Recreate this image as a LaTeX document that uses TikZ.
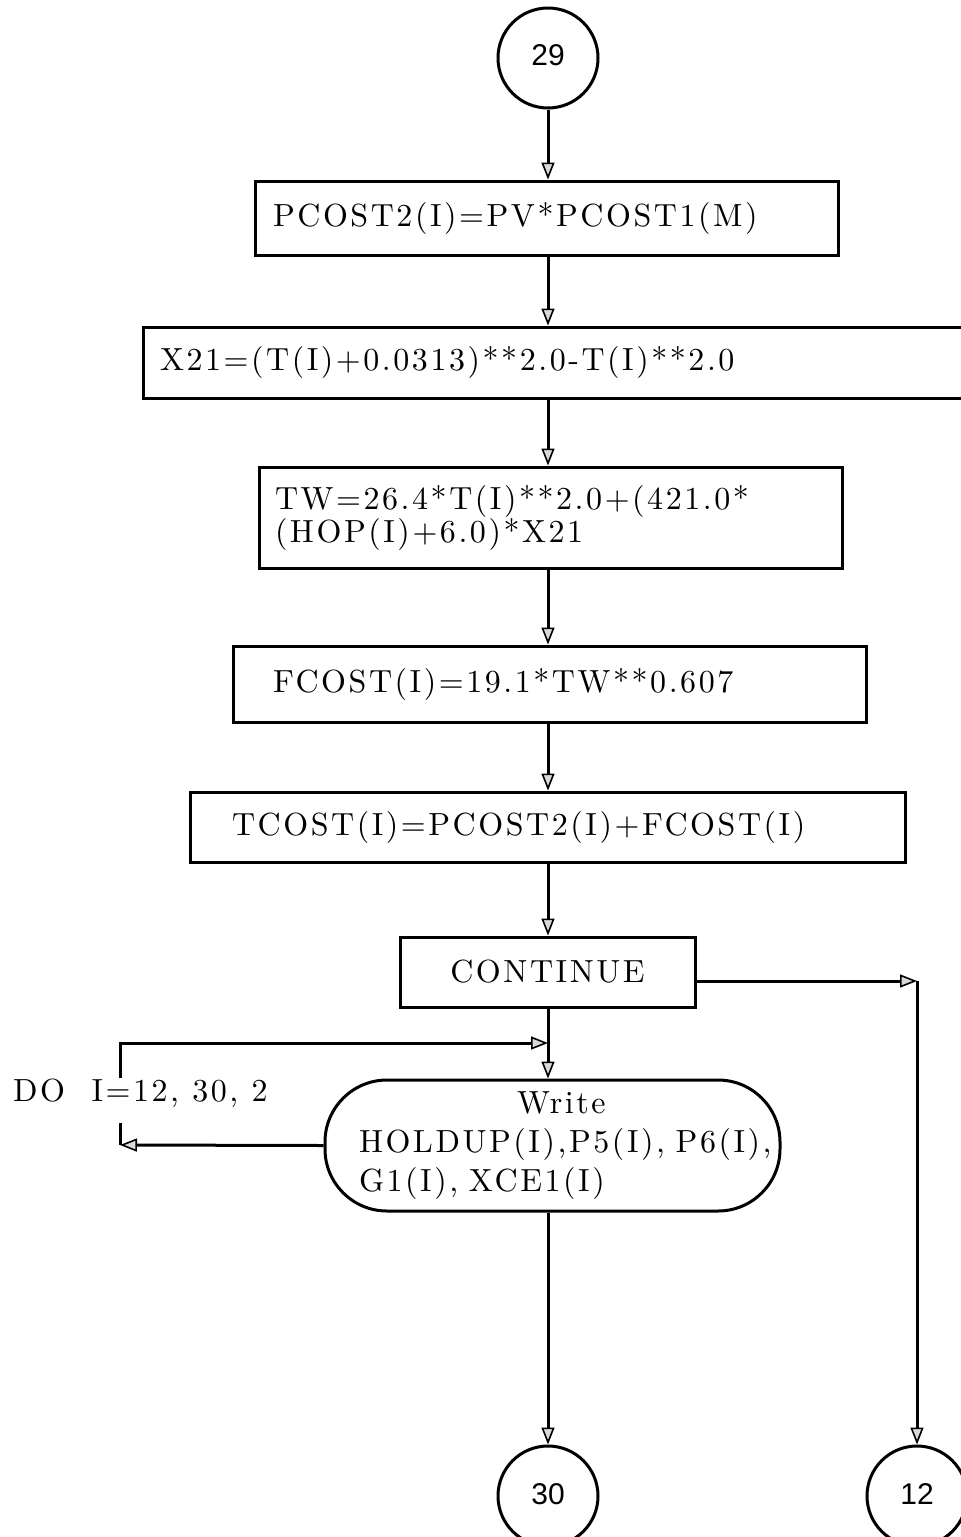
\documentclass[tikz,border=0pt]{standalone}
\usepackage{fontspec}
\newfontfamily\circfont{Liberation Sans}
\newfontfamily\typ{lmroman10-regular}[Extension=.otf,LetterSpace=8]
\usetikzlibrary{arrows.meta}
\newcommand\typfont{\typ\fontsize{32}{30}\selectfont}
\newcommand\wline[2]{\hspace*{#1}\makebox[0pt][l]{#2}}
\tikzset{
  ln/.style={line width=3pt},
  arr/.style={ln,-{Triangle[length=17pt,width=13pt,fill=gray!30,line width=1.6pt]}},
  box/.style={draw,ln,rectangle,inner ysep=0pt,font=\typfont,align=left},
  conn/.style={draw,ln,circle,minimum size=100pt,inner sep=0pt,font=\circfont\fontsize{30}{30}\selectfont},
}
\begin{document}
\begin{tikzpicture}[x=1pt,y=-1pt]
\useasboundingbox (0,0) rectangle (961,1537);
\node[conn] (n29) at (548,58) {\raisebox{6pt}{29}};
\node[box,minimum width=583pt,minimum height=74pt,inner xsep=18pt,text width=547pt] (b1) at (546.5,218) {PCOST2(I)=PV*PCOST1(M)};
\node[box,minimum width=832pt,minimum height=71pt,inner xsep=17pt,text width=798pt] (b2) at (559,362.5) {X21=(T(I)+0.0313)**2.0-T(I)**2.0};
\node[box,minimum width=583pt,minimum height=101pt,inner xsep=16pt,text width=551pt] (b3) at (550.5,517.5) {TW=26.4*T(I)**2.0+(421.0*\\(HOP(I)+6.0)*X21};
\node[box,minimum width=633pt,minimum height=76pt,inner xsep=40pt,text width=553pt] (b4) at (549.5,684) {FCOST(I)=19.1*TW**0.607};
\node[box,minimum width=715pt,minimum height=70pt,inner xsep=42pt,text width=631pt] (b5) at (547.5,827) {TCOST(I)=PCOST2(I)+FCOST(I)};
\node[box,minimum width=295pt,minimum height=70pt,inner xsep=10pt,text width=275pt,align=center] (b6) at (547.5,972) {CONTINUE};
\node[box,rounded corners=62pt,minimum width=455pt,minimum height=131pt,inner xsep=0pt,text width=455pt,font=\typfont\linespread{1.3}\selectfont] (w) at (552.5,1145.5) {\wline{192pt}{Write}\\\wline{34pt}{HOLDUP(I),P5(I), P6(I),}\\\wline{34pt}{G1(I), XCE1(I)}};
\node[anchor=west,inner sep=0pt,font=\typfont] (do) at (13,1093) {DO\ \ I=12, 30, 2};
\node[conn] (n30) at (548,1496) {\raisebox{4pt}{30}};
\node[conn] (n12) at (917,1496) {\raisebox{4pt}{12}};
\coordinate (lt) at (120,1043);
\coordinate (lb) at (120,1145);
\coordinate (rc) at (917,981);
\draw[arr] (n29.south) -- (n29.south |- b1.north);
\draw[arr] (n29.south |- b1.south) -- (n29.south |- b2.north);
\draw[arr] (n29.south |- b2.south) -- (n29.south |- b3.north);
\draw[arr] (n29.south |- b3.south) -- (n29.south |- b4.north);
\draw[arr] (n29.south |- b4.south) -- (n29.south |- b5.north);
\draw[arr] (n29.south |- b5.south) -- (n29.south |- b6.north);
\draw[arr] (n29.south |- b6.south) -- (n29.south |- w.north);
\draw[arr] (w.west) -- (lb);
\draw[ln] (lb) -- ++(0,-22);
\draw[arr] (do.north -| lt) -- (lt) -- (lt -| n29.south);
\draw[arr] ([yshift=-9pt]b6.east) -- (rc);
\draw[arr] (rc) -- (n12.north);
\draw[arr] (n30.north |- w.south) -- (n30.north);
\end{tikzpicture}
\end{document}
